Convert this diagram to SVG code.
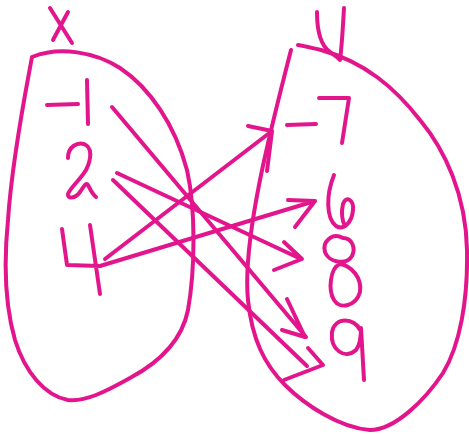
<svg xmlns="http://www.w3.org/2000/svg" width="469" height="434" viewBox="0 0 469 434">
<style>
.ink{fill:none;stroke:#e3158c;stroke-width:4;stroke-linecap:round;stroke-linejoin:round}
.thin{stroke-width:3.5}
</style>
<rect width="469" height="434" fill="#ffffff"/>
<g id="set-x">
<path class="ink" d="M50,8 L72,43 M68,12 L53,40"/>
<path class="ink" d="M32,57 C60,46 95,52 120,68 C150,88 175,125 187,170 C196,210 195,270 188,310 C182,340 160,362 130,378 C105,392 85,402 68,400 C45,396 25,372 15,340 C5,305 4,260 8,220 C12,160 25,95 32,57"/>
</g>
<g id="set-y">
<path class="ink" d="M317,12 C317,30 320,45 330,52 C334,55 337,57 339,59 M344,8 C343,25 342,45 340,60"/>
<path class="ink" d="M291,50 C282,85 268,140 260,180 C252,220 245,270 248,300 C252,340 265,365 285,385 C305,405 340,428 370,430 C395,430 425,400 443,373 C460,345 468,300 467,250 C466,195 445,150 420,120 C395,88 365,62 321,50 C312,48 305,46 298,45"/>
</g>
<g id="x-neg1"><path class="ink" d="M47,105 L78,104 M87,80 L88,124"/></g>
<g id="x-2"><path class="ink" d="M68,158 C68,146 78,142 84,144 C92,147 92,158 86,170 C80,180 70,188 68,194 C67,199 75,199 80,192 C84,186 86,182 88,185 C90,189 92,194 96,197"/></g>
<g id="x-4"><path class="ink" d="M62,229 L67,265 L100,266 M90,225 L100,294"/></g>
<g id="y-neg7"><path class="ink" d="M287,125 L316,124 M319,98 L349,98 L342,143"/></g>
<g id="y-6"><path class="ink" d="M334,175 C326,195 326,218 336,226 C344,231 352,222 353,210 C354,200 346,195 343,204 C341,212 342,221 345,226"/></g>
<g id="y-8"><path class="ink" d="M343,238 C332,232 322,242 325,252 C328,262 346,266 352,256 C356,248 352,238 343,238 M340,264 C330,268 328,290 334,300 C340,310 356,306 360,292 C362,278 352,266 340,264"/></g>
<g id="y-9"><path class="ink" d="M360,330 C355,318 335,316 332,332 C330,350 345,360 356,350 C360,345 361,335 361,328 L364,380"/></g>
<g id="connectors">
<path class="ink" d="M112,107 L306,337 M287,299 L305,337 L282,330"/>
<path class="ink" d="M117,173 L301,259 M284,242 L302,259 L274,270"/>
<path class="ink" d="M113,180 L307,366 M308,348 L323,365 L284,380"/>
<path class="ink" d="M105,259 L272,131 M248,126 L272,131 L267,171"/>
<path class="ink" d="M100,266 L315,201 M288,200 L315,201 L295,227"/>
</g>
</svg>
